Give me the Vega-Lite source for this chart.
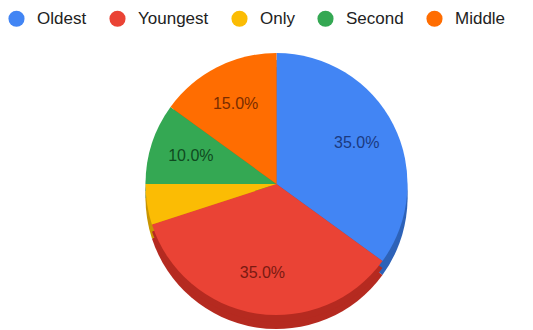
{
  "$schema": "https://vega.github.io/schema/vega-lite/v6.json",
  "width": 513,
  "height": 300,
  "autosize": "none",
  "padding": {"top": 34, "left": 20, "right": 0, "bottom": 0},
  "background": "white",
  "config": {"view": {"stroke": null}, "font": "Liberation Sans"},
  "data": {
    "values": [
      {"category": "Oldest", "pct": 0.35, "idx": 1, "label": "35.0%"},
      {"category": "Youngest", "pct": 0.35, "idx": 2, "label": "35.0%"},
      {"category": "Only", "pct": 0.05, "idx": 3, "label": ""},
      {"category": "Second", "pct": 0.10, "idx": 4, "label": "10.0%"},
      {"category": "Middle", "pct": 0.15, "idx": 5, "label": "15.0%"}
    ]
  },
  "encoding": {
    "theta": {"field": "pct", "type": "quantitative", "stack": true},
    "order": {"field": "idx", "type": "quantitative"}
  },
  "layer": [
    {
      "mark": {"type": "arc", "outerRadius": 131, "yOffset": 14},
      "encoding": {
        "color": {
          "field": "category", "type": "nominal", "legend": null,
          "scale": {
            "domain": ["Oldest", "Youngest", "Only", "Second", "Middle"],
            "range": ["#2d62b8", "#b52a20", "#c99500", "#217a3b", "#c25200"]
          }
        }
      }
    },
    {
      "mark": {"type": "arc", "outerRadius": 131, "yOffset": 7},
      "encoding": {
        "color": {
          "field": "category", "type": "nominal", "legend": null,
          "scale": {
            "domain": ["Oldest", "Youngest", "Only", "Second", "Middle"],
            "range": ["#2d62b8", "#b52a20", "#c99500", "#217a3b", "#c25200"]
          }
        }
      }
    },
    {
      "mark": {"type": "arc", "outerRadius": 131},
      "encoding": {
        "color": {
          "field": "category", "type": "nominal",
          "scale": {
            "domain": ["Oldest", "Youngest", "Only", "Second", "Middle"],
            "range": ["#4285F4", "#EA4335", "#FBBC04", "#34A853", "#FF6D01"]
          },
          "sort": null,
          "legend": {
            "orient": "none",
            "legendX": -12,
            "legendY": -24,
            "direction": "horizontal",
            "columns": 5,
            "title": null,
            "symbolType": "circle",
            "symbolSize": 260,
            "symbolStrokeWidth": 0,
            "labelFontSize": 17,
            "labelColor": "#222222",
            "labelFont": "Liberation Sans",
            "columnPadding": 22,
            "labelOffset": 12,
            "labelLimit": 200
          }
        }
      }
    },
    {
      "mark": {"type": "text", "radius": 90, "fontSize": 16, "fontWeight": 500, "font": "Liberation Sans"},
      "encoding": {
        "text": {"field": "label", "type": "nominal"},
        "color": {
          "field": "category", "type": "nominal", "legend": null,
          "scale": {
            "domain": ["Oldest", "Youngest", "Only", "Second", "Middle"],
            "range": ["#1b3a80", "#7a1a12", "#7a5a00", "#0f4a20", "#7a2c00"]
          }
        }
      }
    }
  ],
  "resolve": {"scale": {"color": "independent"}}
}
